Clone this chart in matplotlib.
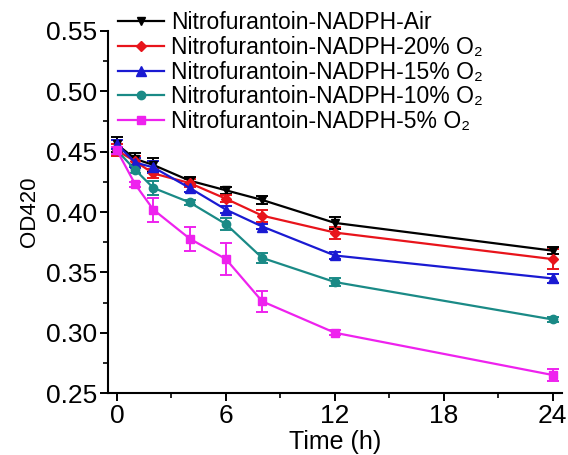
import numpy as np
import matplotlib
matplotlib.use("Agg")
import matplotlib.pyplot as plt
from matplotlib.ticker import MultipleLocator, FormatStrFormatter

plt.rcParams['font.family'] = ['Liberation Sans', 'DejaVu Sans']

time = [0, 1, 2, 4, 6, 8, 12, 24]

air = [0.456, 0.444, 0.439, 0.426, 0.418, 0.410, 0.391, 0.368]
air_err = [0.006, 0.005, 0.006, 0.003, 0.003, 0.003, 0.005, 0.003]
o20 = [0.451, 0.442, 0.432, 0.424, 0.411, 0.397, 0.383, 0.361]
o20_err = [0.005, 0.004, 0.004, 0.003, 0.003, 0.005, 0.005, 0.008]
o15 = [0.456, 0.441, 0.437, 0.420, 0.402, 0.388, 0.364, 0.345]
o15_err = [0.004, 0.004, 0.005, 0.003, 0.003, 0.002, 0.003, 0.004]
o10 = [0.451, 0.435, 0.420, 0.408, 0.390, 0.362, 0.342, 0.311]
o10_err = [0.003, 0.003, 0.006, 0.002, 0.005, 0.004, 0.003, 0.002]
o5 = [0.451, 0.423, 0.402, 0.378, 0.361, 0.326, 0.300, 0.265]
o5_err = [0.003, 0.002, 0.010, 0.010, 0.013, 0.009, 0.002, 0.005]

labels = ["Nitrofurantoin-NADPH-Air",
          "Nitrofurantoin-NADPH-20% O\u2082",
          "Nitrofurantoin-NADPH-15% O\u2082",
          "Nitrofurantoin-NADPH-10% O\u2082",
          "Nitrofurantoin-NADPH-5% O\u2082"]
series = [air, o20, o15, o10, o5]
errors = [air_err, o20_err, o15_err, o10_err, o5_err]
colors = ["#000000", "#e8141b", "#1a1ad2", "#1a8a86", "#ee22ee"]
markers = ["v", "D", "^", "o", "s"]
msizes = [6, 5.5, 6.5, 6, 5.5]

fig = plt.figure(figsize=(5.68, 4.55), dpi=100)
ax = fig.add_axes([0.190, 0.136, 0.799, 0.796])

handles = []
for y, e, c, m, ms, lab in zip(series, errors, colors, markers, msizes, labels):
    h = ax.errorbar(time, y, yerr=e, color=c, marker=m, markersize=ms, lw=1.6,
                    capsize=4, capthick=1.4, elinewidth=1.4, label=lab)
    handles.append(h[0])

ax.set_xlim(-0.5, 24.5)
ax.set_ylim(0.25, 0.55)
ax.xaxis.set_major_locator(MultipleLocator(6))
ax.xaxis.set_minor_locator(MultipleLocator(3))
ax.yaxis.set_major_locator(MultipleLocator(0.05))
ax.yaxis.set_minor_locator(MultipleLocator(0.025))
ax.yaxis.set_major_formatter(FormatStrFormatter('%.2f'))

for s in ['top', 'right']:
    ax.spines[s].set_visible(False)
for s in ['left', 'bottom']:
    ax.spines[s].set_linewidth(1.5)

ax.tick_params(which='major', direction='out', length=6, width=1.4, labelsize=19, pad=2)
ax.tick_params(which='minor', direction='out', length=3.5, width=1.2)

ax.set_xlabel("Time (h)", fontsize=18, labelpad=1)
ax.set_ylabel("OD420", fontsize=16, labelpad=4)

ax.legend(handles, labels, loc='upper left', bbox_to_anchor=(0.208, 0.975),
          bbox_transform=fig.transFigure, frameon=False, fontsize=16.5,
          handlelength=2.0, labelspacing=0.07, handletextpad=0.3,
          borderaxespad=0, borderpad=0)

fig.savefig("out.png", dpi=100)
